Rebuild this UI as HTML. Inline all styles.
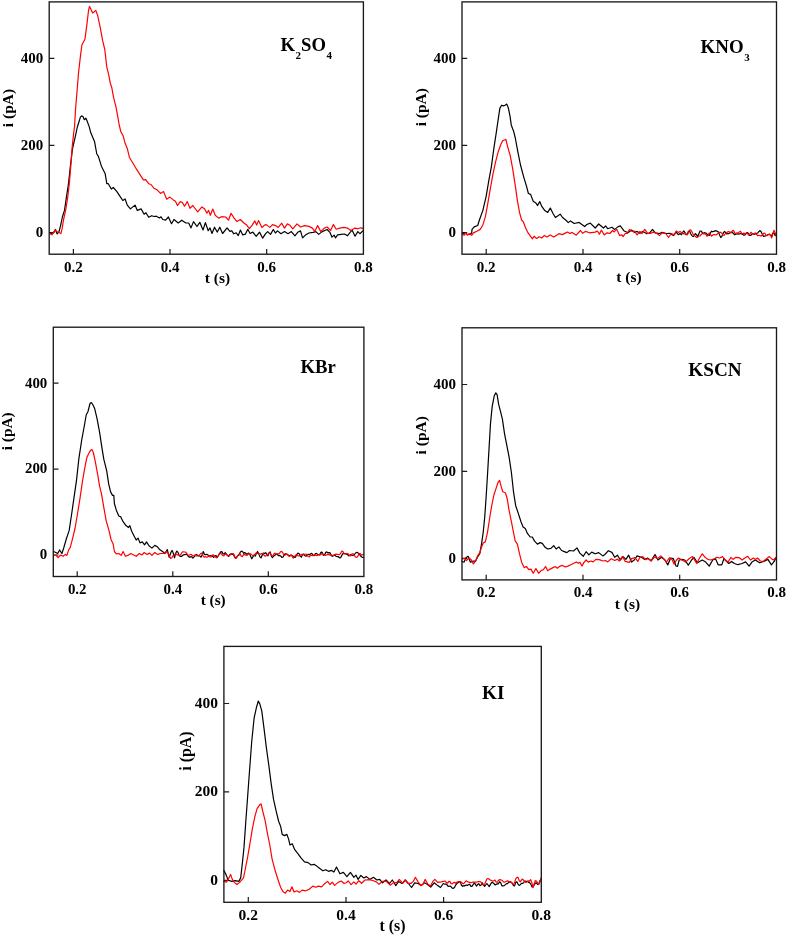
<!DOCTYPE html>
<html lang="en"><head><meta charset="utf-8"><title>Current transients</title>
<style>
html,body{margin:0;padding:0;background:#fff}
svg{display:block}
text{font-family:"Liberation Serif","Times New Roman",Times,serif;font-weight:bold;fill:#000}
.t{font-size:15px}
.l{font-size:19px}
.s{font-size:11px}
.fr{fill:none;stroke:#1a1a1a;stroke-width:1.35}
.tk{stroke:#1a1a1a;stroke-width:1.2;fill:none}
.k{fill:none;stroke:#000;stroke-width:1.2;stroke-linejoin:round;stroke-linecap:round}
.r{fill:none;stroke:#f00;stroke-width:1.2;stroke-linejoin:round;stroke-linecap:round}
</style></head><body>
<svg width="787" height="936" viewBox="0 0 787 936">
<rect width="787" height="936" fill="#fff"/>
<g id="p1">
<text style="font-size:15.0px" x="73.4" y="271.8" text-anchor="middle">0.2</text>
<text style="font-size:15.0px" x="170.0" y="271.8" text-anchor="middle">0.4</text>
<text style="font-size:15.0px" x="266.7" y="271.8" text-anchor="middle">0.6</text>
<text style="font-size:15.0px" x="363.4" y="271.8" text-anchor="middle">0.8</text>
<text style="font-size:15.0px" x="43.2" y="62.6" text-anchor="end">400</text>
<text style="font-size:15.0px" x="43.2" y="149.7" text-anchor="end">200</text>
<text style="font-size:15.0px" x="43.2" y="236.8" text-anchor="end">0</text>
<path class="tk" d="M73.4,254.2v-5.2M170.0,254.2v-5.2M266.7,254.2v-5.2M49.2,58.3h5.2M49.2,145.4h5.2M49.2,232.5h5.2"/>
<text style="font-size:15.5px" x="217.5" y="282.8" text-anchor="middle">t (s)</text>
<text style="font-size:15.5px" transform="translate(13.0,108.0) rotate(-90)" text-anchor="middle">i (pA)</text>
<text style="font-size:18.7px" x="280.4" y="50.7">K<tspan class="s" dy="7.8" dx="0.6">2</tspan><tspan dy="-7.8">SO</tspan><tspan class="s" dy="7.8" dx="0.6">4</tspan></text>
<path class="k" d="M49.6,232.5 L51.4,234.0 L53.4,233.0 L55.4,229.5 L57.2,234.0 L59.0,231.7 L60.6,225.6 L62.5,216.5 L64.5,210.4 L66.3,198.2 L68.6,182.9 L70.2,167.7 L72.4,149.4 L75.5,135.7 L77.2,127.5 L78.9,122.0 L80.4,117.1 L81.6,115.9 L83.1,116.7 L84.3,119.7 L85.9,118.2 L86.9,120.5 L89.2,126.6 L90.7,132.6 L94.6,141.8 L96.8,154.0 L98.4,156.3 L101.4,166.2 L105.2,173.8 L106.8,183.7 L108.3,183.7 L111.3,189.0 L113.3,187.5 L116.7,191.3 L119.7,195.9 L122.8,200.5 L125.1,199.0 L127.3,205.1 L130.4,208.9 L135.0,205.1 L137.3,210.4 L141.1,208.9 L144.1,214.2 L145.9,212.7 L148.7,217.3 L151.7,215.7 L154.0,216.5 L156.3,216.2 L159.4,218.0 L161.0,216.8 L162.8,219.5 L165.6,220.2 L168.4,217.0 L171.5,223.7 L174.0,219.5 L178.2,223.0 L181.7,220.2 L185.9,223.0 L188.7,223.0 L191.0,227.9 L193.5,221.6 L197.0,226.5 L199.8,222.3 L203.0,230.0 L205.4,222.6 L208.2,230.7 L210.0,227.9 L212.0,233.5 L214.5,227.2 L217.3,232.1 L219.8,227.2 L222.6,233.5 L227.1,227.9 L229.9,231.4 L231.6,230.7 L233.8,233.8 L236.2,232.8 L238.3,235.6 L240.4,230.0 L242.7,234.9 L245.3,234.2 L247.8,229.3 L250.1,233.5 L252.9,232.1 L256.2,236.3 L259.5,232.1 L262.7,238.2 L265.6,233.7 L267.7,231.6 L270.5,234.4 L273.3,229.5 L275.4,233.0 L277.5,230.9 L281.0,233.7 L284.5,231.6 L288.0,233.7 L291.4,231.6 L294.9,235.8 L297.7,232.3 L300.5,230.9 L302.6,237.9 L305.4,235.1 L308.9,233.0 L313.1,232.3 L315.9,231.6 L318.7,234.4 L322.2,231.6 L327.1,229.5 L329.9,232.3 L332.0,237.2 L334.1,235.1 L335.5,237.9 L337.6,234.8 L341.1,234.4 L344.6,234.0 L347.4,235.8 L350.1,232.3 L352.2,230.2 L355.0,236.2 L357.8,231.6 L359.9,233.7 L363.1,230.6"/>
<path class="r" d="M49.6,233.3 L51.9,234.8 L53.4,232.5 L55.4,230.2 L57.2,231.7 L59.0,232.5 L60.9,233.6 L62.1,228.7 L63.6,219.5 L65.6,210.4 L67.6,198.2 L69.4,182.9 L70.9,164.6 L72.1,147.9 L73.7,132.6 L74.5,127.0 L75.5,109.8 L77.0,91.5 L78.5,73.2 L80.4,56.4 L81.9,45.0 L85.0,38.9 L86.9,24.4 L88.5,10.7 L89.5,6.4 L90.7,8.8 L92.6,13.0 L94.1,11.9 L95.8,10.4 L97.6,15.2 L100.2,27.4 L102.6,40.4 L104.8,49.6 L106.8,67.1 L108.7,74.7 L110.3,83.1 L111.8,87.7 L113.6,97.6 L115.9,106.7 L117.9,117.4 L119.2,125.0 L120.9,131.9 L123.1,135.7 L125.1,143.3 L127.3,148.6 L129.6,157.8 L132.7,162.8 L136.5,169.2 L139.5,173.8 L143.4,179.9 L145.6,179.6 L148.7,183.7 L151.0,184.5 L154.0,188.3 L157.1,189.8 L160.5,193.4 L163.5,191.6 L166.7,199.2 L169.8,197.1 L173.3,199.9 L175.4,201.3 L177.5,205.5 L180.3,201.6 L182.4,202.5 L184.5,206.2 L187.3,201.6 L190.0,208.3 L192.8,205.5 L197.7,211.8 L201.9,206.9 L204.7,209.0 L206.8,213.2 L208.6,210.4 L210.3,215.3 L212.8,209.0 L215.2,215.3 L218.7,218.1 L221.5,216.7 L225.7,217.0 L228.5,220.2 L231.0,213.2 L234.1,218.1 L236.9,221.6 L240.4,219.5 L243.9,223.0 L246.7,225.1 L249.4,228.6 L252.2,225.1 L254.8,220.9 L256.7,225.1 L258.5,220.6 L262.0,227.5 L264.5,225.1 L266.3,224.6 L269.8,227.4 L272.6,224.6 L275.4,225.6 L278.2,227.4 L281.7,223.2 L284.5,228.1 L287.3,223.9 L290.0,225.3 L292.8,228.8 L297.0,223.9 L300.5,227.0 L304.7,225.6 L308.9,226.4 L312.4,228.1 L314.8,231.6 L317.6,225.6 L320.8,231.6 L324.3,228.1 L327.1,227.0 L330.6,230.6 L333.4,224.6 L336.2,229.2 L339.7,228.1 L343.9,227.4 L347.4,228.1 L350.8,230.6 L355.0,228.1 L357.8,228.8 L360.6,227.8 L363.1,228.4"/>
<rect class="fr" x="49.2" y="1.9" width="314.2" height="252.3"/>
</g>
<g id="p2">
<text style="font-size:15.0px" x="486.2" y="271.6" text-anchor="middle">0.2</text>
<text style="font-size:15.0px" x="583.0" y="271.6" text-anchor="middle">0.4</text>
<text style="font-size:15.0px" x="679.7" y="271.6" text-anchor="middle">0.6</text>
<text style="font-size:15.0px" x="776.5" y="271.6" text-anchor="middle">0.8</text>
<text style="font-size:15.0px" x="456.0" y="62.6" text-anchor="end">400</text>
<text style="font-size:15.0px" x="456.0" y="149.7" text-anchor="end">200</text>
<text style="font-size:15.0px" x="456.0" y="236.8" text-anchor="end">0</text>
<path class="tk" d="M486.2,254.2v-5.2M583.0,254.2v-5.2M679.7,254.2v-5.2M462.0,58.3h5.2M462.0,145.4h5.2M462.0,232.5h5.2"/>
<text style="font-size:15.5px" x="629.0" y="282.4" text-anchor="middle">t (s)</text>
<text style="font-size:15.5px" transform="translate(426.3,107.2) rotate(-90)" text-anchor="middle">i (pA)</text>
<text style="font-size:18.9px" x="700.6" y="53.1">KNO<tspan class="s" dy="7.8" dx="0.6">3</tspan></text>
<path class="k" d="M462.3,233.7 L464.8,232.9 L467.4,234.6 L470.0,234.1 L471.7,232.9 L472.0,229.4 L474.2,226.9 L477.7,225.5 L479.4,220.0 L482.8,210.6 L486.2,196.1 L488.8,180.7 L491.3,167.1 L493.9,148.2 L496.5,131.2 L498.7,115.8 L499.9,108.1 L501.6,105.2 L503.3,105.9 L505.0,105.2 L506.7,104.1 L508.4,108.1 L510.1,116.6 L511.3,125.2 L513.6,131.2 L515.3,138.0 L517.8,151.7 L520.4,164.5 L523.8,177.3 L526.4,185.9 L528.4,193.5 L530.6,194.4 L533.2,201.2 L535.8,202.9 L537.5,205.5 L539.7,201.6 L541.8,206.4 L544.8,210.6 L547.7,212.4 L550.3,208.1 L552.9,213.2 L555.4,217.5 L558.0,215.8 L560.2,214.1 L562.6,217.5 L565.7,220.0 L568.3,222.6 L570.5,220.9 L574.2,223.5 L579.1,222.4 L584.7,226.6 L586.8,224.5 L590.3,223.1 L595.2,228.0 L598.7,224.0 L603.5,228.0 L605.6,225.9 L607.7,228.7 L611.9,227.3 L614.7,229.4 L618.2,226.6 L620.3,225.9 L623.8,230.7 L628.0,232.8 L631.5,230.0 L634.3,232.4 L637.1,231.4 L639.9,233.3 L642.7,231.4 L646.9,233.8 L649.7,232.8 L652.5,229.4 L655.3,232.8 L659.4,233.5 L662.2,232.4 L666.4,233.5 L669.9,233.3 L673.4,235.6 L676.2,232.1 L678.3,234.7 L680.0,233.5 L681.5,234.7 L682.7,232.3 L683.8,230.9 L685.0,232.6 L686.1,234.8 L687.3,234.4 L688.4,231.3 L689.6,231.0 L690.7,233.7 L691.9,235.6 L693.1,236.6 L694.2,235.8 L695.4,233.6 L696.5,234.6 L697.7,236.6 L698.8,234.1 L700.0,231.0 L701.2,231.0 L702.3,232.6 L703.5,233.2 L704.6,232.7 L705.8,233.0 L706.9,234.0 L708.1,235.2 L709.2,235.4 L710.4,232.9 L711.6,231.2 L712.7,231.8 L713.9,231.4 L715.0,230.7 L716.2,230.8 L717.3,231.4 L718.5,232.1 L719.7,235.3 L720.8,237.6 L722.0,236.1 L723.1,233.3 L724.3,231.5 L725.4,232.2 L726.6,233.8 L727.7,233.7 L728.9,233.6 L730.1,232.7 L731.2,232.0 L732.4,232.5 L733.5,233.6 L734.7,234.8 L735.8,234.2 L737.0,233.7 L738.1,234.2 L739.3,234.0 L740.5,233.5 L741.6,233.9 L742.8,234.5 L743.9,235.2 L745.1,234.9 L746.2,233.1 L747.4,232.5 L748.6,233.9 L749.7,235.4 L750.9,235.4 L752.0,234.0 L753.2,233.8 L754.3,234.3 L755.5,233.9 L756.6,233.6 L757.8,232.9 L759.0,231.4 L760.1,230.6 L761.3,232.0 L762.4,234.6 L763.6,236.3 L764.7,236.2 L765.9,235.7 L767.1,235.3 L768.2,234.6 L769.4,234.2 L770.5,235.4 L771.7,235.8 L772.8,233.1 L774.0,233.0 L775.1,235.4 L776.3,235.3"/>
<path class="r" d="M462.3,233.7 L464.0,235.4 L465.7,232.9 L467.4,235.1 L469.6,233.7 L471.7,235.4 L473.4,232.9 L476.8,231.2 L480.2,229.4 L482.8,225.2 L485.4,216.6 L487.9,202.9 L490.5,187.6 L493.0,173.9 L495.6,161.9 L498.2,151.7 L500.7,144.8 L502.8,140.6 L504.5,140.0 L505.9,139.4 L507.6,146.5 L510.1,155.1 L512.7,168.8 L515.3,185.9 L517.5,201.2 L519.5,212.4 L521.6,220.0 L523.3,221.8 L525.5,227.7 L528.1,232.9 L530.6,236.3 L532.4,238.8 L534.1,236.3 L536.6,238.5 L539.2,236.8 L541.8,238.0 L544.3,235.4 L546.9,237.1 L550.3,235.1 L553.7,237.1 L556.3,235.4 L558.9,233.7 L562.3,234.6 L564.8,233.4 L567.4,232.0 L570.0,233.5 L572.1,232.4 L576.3,235.2 L580.5,230.5 L582.6,233.3 L585.4,231.4 L589.6,232.8 L595.2,232.1 L597.3,231.0 L599.4,234.2 L601.4,230.0 L604.2,234.9 L607.0,232.8 L609.8,233.5 L612.6,230.5 L614.0,231.9 L616.8,229.4 L619.6,235.6 L621.7,234.7 L623.1,236.6 L625.2,233.5 L627.3,233.5 L629.4,229.4 L632.2,231.4 L634.3,231.0 L637.1,234.9 L639.9,231.4 L642.0,233.5 L644.8,229.4 L647.6,233.3 L650.4,233.5 L653.2,232.1 L656.7,233.3 L659.4,235.6 L662.2,232.8 L665.7,233.5 L668.5,237.5 L671.3,233.5 L674.1,234.9 L676.2,231.0 L678.3,232.4 L680.0,231.4 L681.5,232.5 L682.7,232.8 L683.8,234.0 L685.0,233.6 L686.1,233.9 L687.3,234.9 L688.4,232.7 L689.6,230.0 L690.7,229.9 L691.9,231.8 L693.1,234.1 L694.2,235.4 L695.4,236.4 L696.5,237.5 L697.7,237.1 L698.8,236.0 L700.0,235.8 L701.2,234.5 L702.3,233.4 L703.5,233.9 L704.6,233.7 L705.8,234.3 L706.9,236.3 L708.1,235.3 L709.2,233.0 L710.4,234.4 L711.6,236.2 L712.7,235.0 L713.9,234.5 L715.0,234.9 L716.2,234.8 L717.3,234.1 L718.5,232.7 L719.7,232.2 L720.8,232.4 L722.0,233.2 L723.1,235.2 L724.3,235.3 L725.4,233.5 L726.6,232.7 L727.7,231.8 L728.9,231.5 L730.1,232.5 L731.2,232.9 L732.4,230.9 L733.5,230.3 L734.7,233.2 L735.8,233.4 L737.0,232.7 L738.1,233.4 L739.3,231.9 L740.5,231.2 L741.6,233.3 L742.8,233.6 L743.9,233.0 L745.1,234.1 L746.2,233.6 L747.4,233.2 L748.6,235.1 L749.7,234.1 L750.9,232.2 L752.0,233.2 L753.2,234.5 L754.3,233.8 L755.5,232.8 L756.6,234.5 L757.8,235.8 L759.0,235.3 L760.1,235.5 L761.3,236.1 L762.4,235.3 L763.6,233.4 L764.7,233.0 L765.9,235.0 L767.1,235.7 L768.2,234.5 L769.4,234.2 L770.5,235.3 L771.7,237.9 L772.8,234.1 L774.0,230.3 L775.1,232.7 L776.3,236.3"/>
<rect class="fr" x="462.0" y="1.9" width="314.5" height="252.3"/>
</g>
<g id="p3">
<text style="font-size:14.9px" x="77.2" y="593.5" text-anchor="middle">0.2</text>
<text style="font-size:14.9px" x="172.8" y="593.5" text-anchor="middle">0.4</text>
<text style="font-size:14.9px" x="268.3" y="593.5" text-anchor="middle">0.6</text>
<text style="font-size:14.9px" x="363.9" y="593.5" text-anchor="middle">0.8</text>
<text style="font-size:14.9px" x="47.3" y="387.5" text-anchor="end">400</text>
<text style="font-size:14.9px" x="47.3" y="473.4" text-anchor="end">200</text>
<text style="font-size:14.9px" x="47.3" y="559.3" text-anchor="end">0</text>
<path class="tk" d="M77.2,576.5v-5.2M172.8,576.5v-5.2M268.3,576.5v-5.2M53.3,383.2h5.2M53.3,469.1h5.2M53.3,555.0h5.2"/>
<text style="font-size:15.3px" x="213.2" y="604.9" text-anchor="middle">t (s)</text>
<text style="font-size:15.3px" transform="translate(12.4,431.3) rotate(-90)" text-anchor="middle">i (pA)</text>
<text style="font-size:18.7px" x="300.4" y="372.7">KBr</text>
<path class="k" d="M53.5,551.5 L55.8,552.5 L57.7,553.5 L59.6,550.0 L61.9,553.5 L63.8,547.7 L66.3,539.0 L69.2,530.4 L71.5,515.0 L74.0,497.7 L76.5,480.4 L78.8,459.2 L81.7,440.0 L84.2,426.5 L86.2,415.0 L88.1,411.2 L90.0,403.5 L91.3,402.5 L92.7,404.4 L94.6,408.3 L97.1,418.8 L99.6,432.3 L101.9,447.7 L103.8,459.2 L106.7,470.8 L108.7,484.2 L110.6,491.9 L112.5,495.4 L113.8,495.4 L114.4,503.5 L116.3,510.2 L118.8,516.0 L120.8,516.9 L123.1,521.7 L126.0,525.6 L128.5,527.5 L129.8,525.6 L131.7,531.3 L134.2,536.2 L136.2,540.0 L138.1,538.1 L140.0,542.9 L142.3,541.9 L144.6,544.8 L146.5,541.9 L149.0,545.8 L151.9,548.1 L154.8,545.4 L157.3,546.7 L159.6,549.6 L162.5,551.5 L165.0,553.5 L167.3,549.6 L169.2,557.3 L171.0,552.3 L172.2,550.4 L173.3,553.2 L174.5,557.8 L175.6,553.5 L176.8,551.1 L177.9,552.2 L179.1,555.1 L180.2,556.4 L181.4,556.5 L182.5,555.5 L183.7,554.7 L184.8,554.7 L186.0,554.2 L187.2,554.8 L188.3,556.5 L189.5,557.3 L190.6,556.7 L191.8,556.9 L192.9,558.1 L194.1,556.9 L195.2,555.5 L196.4,554.5 L197.5,555.3 L198.7,556.0 L199.8,555.9 L201.0,557.2 L202.2,555.1 L203.3,551.5 L204.5,554.5 L205.6,554.7 L206.8,554.3 L207.9,555.0 L209.1,555.9 L210.2,555.9 L211.4,555.7 L212.5,556.4 L213.7,557.4 L214.8,555.9 L216.0,555.6 L217.2,557.0 L218.3,555.8 L219.5,553.7 L220.6,551.9 L221.8,551.6 L222.9,553.6 L224.1,554.3 L225.2,552.5 L226.4,554.0 L227.5,555.6 L228.7,556.4 L229.8,554.4 L231.0,553.7 L232.2,554.5 L233.3,554.3 L234.5,556.8 L235.6,558.1 L236.8,557.0 L237.9,555.6 L239.1,555.0 L240.2,552.2 L241.4,551.1 L242.5,551.5 L243.7,553.3 L244.8,552.6 L246.0,553.5 L247.2,554.5 L248.3,553.2 L249.5,553.5 L250.6,556.2 L251.8,558.8 L252.9,556.9 L254.1,554.9 L255.2,556.1 L256.4,553.7 L257.5,551.5 L258.7,553.6 L259.8,556.6 L261.0,557.9 L262.2,555.2 L263.3,553.2 L264.5,553.4 L265.6,552.7 L266.8,554.1 L267.9,555.8 L269.1,552.7 L270.2,551.9 L271.4,556.4 L272.5,557.6 L273.7,556.0 L274.9,555.4 L276.0,554.2 L277.2,554.1 L278.3,555.6 L279.5,555.6 L280.6,555.8 L281.8,557.4 L282.9,557.2 L284.1,555.0 L285.2,553.7 L286.4,554.3 L287.5,554.7 L288.7,555.3 L289.9,555.7 L291.0,555.0 L292.2,555.6 L293.3,556.5 L294.5,557.5 L295.6,557.1 L296.8,554.3 L297.9,553.1 L299.1,553.5 L300.2,555.9 L301.4,557.2 L302.5,554.4 L303.7,554.1 L304.9,555.8 L306.0,556.2 L307.2,555.3 L308.3,554.3 L309.5,554.7 L310.6,553.7 L311.8,553.3 L312.9,555.3 L314.1,555.6 L315.2,553.9 L316.4,553.4 L317.5,554.3 L318.7,554.8 L319.9,554.2 L321.0,552.2 L322.2,552.3 L323.3,555.4 L324.5,555.3 L325.6,552.6 L326.8,551.8 L327.9,552.9 L329.1,552.7 L330.2,552.9 L331.4,555.8 L332.5,556.3 L333.7,555.1 L334.9,555.4 L336.0,556.3 L337.2,556.7 L338.3,556.7 L339.5,557.8 L340.6,557.7 L341.8,555.4 L342.9,553.7 L344.1,553.5 L345.2,553.7 L346.4,554.0 L347.5,554.8 L348.7,555.8 L349.9,555.2 L351.0,554.6 L352.2,555.5 L353.3,555.3 L354.5,554.4 L355.6,553.0 L356.8,552.3 L357.9,552.9 L359.1,553.6 L360.2,555.3 L361.4,556.8 L362.5,557.5 L363.7,557.3"/>
<path class="r" d="M53.5,555.4 L55.8,555.0 L58.1,557.7 L60.6,555.0 L63.1,556.3 L65.4,554.4 L66.9,555.4 L68.8,549.6 L70.2,547.7 L72.7,538.1 L75.0,528.5 L77.3,515.0 L79.8,499.6 L82.3,482.3 L84.6,468.8 L86.9,457.3 L88.8,453.5 L90.4,450.6 L91.9,449.6 L93.3,452.5 L95.2,461.2 L97.7,474.6 L99.6,486.2 L101.5,493.8 L103.8,507.3 L106.2,520.8 L108.7,529.4 L111.2,540.0 L113.1,543.8 L114.4,551.5 L116.3,553.8 L118.8,553.5 L121.2,555.4 L123.1,551.5 L125.4,556.3 L127.9,555.4 L130.8,553.5 L133.7,555.0 L136.2,556.3 L139.4,553.5 L141.9,555.0 L144.2,552.5 L147.1,554.4 L149.6,553.1 L151.9,555.4 L154.8,552.5 L157.7,554.4 L160.6,553.5 L163.5,553.5 L166.3,551.5 L168.8,554.4 L170.6,558.5 L171.8,557.7 L172.9,555.8 L174.1,555.3 L175.2,554.2 L176.4,554.2 L177.5,554.9 L178.7,555.3 L179.9,555.6 L181.0,554.2 L182.2,552.0 L183.3,551.9 L184.5,552.0 L185.6,552.1 L186.8,553.5 L187.9,555.1 L189.1,555.4 L190.3,554.4 L191.4,554.5 L192.6,555.9 L193.7,555.6 L194.9,555.1 L196.0,555.8 L197.2,555.8 L198.4,555.8 L199.5,555.0 L200.7,553.5 L201.8,553.1 L203.0,555.5 L204.1,557.3 L205.3,556.5 L206.4,557.1 L207.6,557.2 L208.8,555.9 L209.9,556.8 L211.1,557.0 L212.2,555.1 L213.4,554.8 L214.5,556.1 L215.7,557.2 L216.9,557.9 L218.0,556.0 L219.2,553.8 L220.3,553.5 L221.5,553.9 L222.6,555.5 L223.8,555.9 L224.9,554.3 L226.1,554.1 L227.3,555.2 L228.4,555.7 L229.6,555.5 L230.7,554.3 L231.9,553.7 L233.0,553.5 L234.2,554.9 L235.4,558.3 L236.5,558.1 L237.7,555.6 L238.8,554.4 L240.0,553.9 L241.1,555.9 L242.3,556.7 L243.4,554.9 L244.6,554.4 L245.8,555.2 L246.9,555.3 L248.1,554.2 L249.2,553.5 L250.4,553.8 L251.5,554.6 L252.7,555.6 L253.9,555.6 L255.0,554.2 L256.2,552.8 L257.3,553.2 L258.5,553.8 L259.6,553.9 L260.8,554.2 L261.9,553.5 L263.1,553.4 L264.3,555.6 L265.4,556.2 L266.6,555.1 L267.7,554.7 L268.9,553.3 L270.0,552.7 L271.2,554.8 L272.4,556.5 L273.5,554.7 L274.7,553.1 L275.8,553.9 L277.0,553.9 L278.1,553.8 L279.3,553.8 L280.4,551.9 L281.6,551.3 L282.8,552.7 L283.9,555.3 L285.1,555.2 L286.2,553.8 L287.4,554.1 L288.5,556.0 L289.7,556.3 L290.9,554.9 L292.0,556.1 L293.2,558.2 L294.3,556.8 L295.5,555.0 L296.6,555.1 L297.8,555.6 L298.9,555.9 L300.1,555.4 L301.3,554.4 L302.4,554.6 L303.6,554.8 L304.7,554.3 L305.9,554.0 L307.0,554.5 L308.2,556.7 L309.4,556.9 L310.5,555.2 L311.7,555.4 L312.8,555.6 L314.0,554.9 L315.1,554.7 L316.3,555.6 L317.4,555.4 L318.6,554.6 L319.8,555.1 L320.9,554.5 L322.1,553.3 L323.2,554.5 L324.4,555.5 L325.5,555.3 L326.7,554.9 L327.9,554.3 L329.0,554.6 L330.2,555.1 L331.3,554.9 L332.5,555.6 L333.6,555.6 L334.8,554.5 L335.9,554.2 L337.1,554.3 L338.3,554.5 L339.4,554.6 L340.6,553.4 L341.7,551.2 L342.9,551.4 L344.0,553.6 L345.2,553.9 L346.4,553.6 L347.5,553.6 L348.7,554.3 L349.8,555.9 L351.0,555.6 L352.1,553.9 L353.3,553.9 L354.4,555.6 L355.6,557.0 L356.8,557.4 L357.9,556.2 L359.1,553.6 L360.2,553.6 L361.4,555.2 L362.5,554.7 L363.7,554.1"/>
<rect class="fr" x="53.3" y="327.2" width="310.6" height="249.3"/>
</g>
<g id="p4">
<text style="font-size:15.0px" x="486.2" y="597.2" text-anchor="middle">0.2</text>
<text style="font-size:15.0px" x="583.0" y="597.2" text-anchor="middle">0.4</text>
<text style="font-size:15.0px" x="679.7" y="597.2" text-anchor="middle">0.6</text>
<text style="font-size:15.0px" x="776.5" y="597.2" text-anchor="middle">0.8</text>
<text style="font-size:15.0px" x="456.0" y="388.8" text-anchor="end">400</text>
<text style="font-size:15.0px" x="456.0" y="475.7" text-anchor="end">200</text>
<text style="font-size:15.0px" x="456.0" y="562.6" text-anchor="end">0</text>
<path class="tk" d="M486.2,579.9v-5.2M583.0,579.9v-5.2M679.7,579.9v-5.2M462.0,384.5h5.2M462.0,471.4h5.2M462.0,558.3h5.2"/>
<text style="font-size:15.5px" x="627.5" y="609.1" text-anchor="middle">t (s)</text>
<text style="font-size:15.5px" transform="translate(426.3,435.3) rotate(-90)" text-anchor="middle">i (pA)</text>
<text style="font-size:19.2px" x="688.3" y="375.6">KSCN</text>
<path class="k" d="M461.8,561.2 L464.0,562.2 L466.1,557.5 L468.2,556.3 L470.4,562.2 L472.9,561.2 L475.5,561.2 L477.6,556.9 L479.8,553.7 L481.5,544.1 L483.2,532.3 L484.7,517.4 L486.2,496.0 L487.5,474.7 L489.0,449.1 L490.5,423.4 L492.2,406.4 L494.3,395.7 L495.8,392.9 L497.1,394.6 L498.6,404.2 L500.3,410.6 L502.4,419.2 L504.6,434.1 L507.1,446.9 L509.2,457.6 L511.4,472.5 L513.5,491.8 L515.7,505.7 L518.2,513.1 L521.0,521.7 L523.1,527.0 L525.3,528.5 L527.4,533.4 L530.2,537.0 L532.3,537.0 L534.4,540.9 L537.4,544.1 L540.2,542.6 L542.3,543.4 L545.1,547.3 L547.7,549.0 L550.9,548.4 L553.7,545.6 L556.2,549.0 L558.8,546.9 L561.6,550.5 L564.3,551.6 L566.9,552.6 L569.5,550.5 L573.5,551.0 L577.0,547.9 L579.8,553.1 L583.3,556.3 L586.1,551.7 L588.9,554.9 L591.7,552.1 L595.2,553.8 L598.7,552.6 L602.8,555.9 L604.9,554.5 L608.4,550.7 L611.9,552.4 L614.7,557.3 L617.5,555.2 L620.3,560.0 L623.1,556.6 L625.9,559.4 L628.7,555.2 L631.5,562.1 L634.3,560.0 L637.1,555.9 L641.3,557.3 L644.8,559.4 L647.6,558.0 L651.1,560.7 L655.0,554.5 L658.0,560.0 L661.5,557.3 L665.0,560.0 L667.8,564.9 L670.6,558.0 L673.4,558.7 L676.0,566.0 L677.5,566.3 L679.2,560.0 L682.0,559.4 L684.8,560.0 L688.3,565.2 L691.1,560.7 L693.9,557.3 L697.4,562.8 L702.3,560.0 L705.7,562.1 L709.2,566.1 L712.7,560.0 L715.5,558.7 L718.3,564.9 L721.8,564.9 L723.9,558.7 L728.8,563.5 L731.6,561.4 L734.4,563.5 L737.9,564.7 L742.1,563.5 L745.6,561.9 L749.1,566.1 L751.9,562.1 L755.4,560.0 L759.6,562.8 L763.7,561.4 L767.9,559.4 L771.4,564.9 L774.2,561.4 L775.9,558.0"/>
<path class="r" d="M461.8,559.0 L464.4,558.4 L466.5,560.5 L469.1,558.0 L471.2,559.7 L473.4,563.9 L475.5,561.2 L477.6,555.8 L479.8,552.6 L481.5,547.3 L483.2,543.0 L485.3,541.9 L487.5,532.3 L489.6,518.5 L491.7,505.6 L493.9,495.0 L496.0,488.6 L498.1,482.2 L499.6,480.5 L501.1,486.4 L502.8,491.8 L505.4,492.8 L507.1,498.2 L509.2,511.0 L511.4,521.7 L513.5,532.3 L515.2,540.9 L517.4,544.1 L519.5,553.7 L521.6,562.2 L524.2,567.6 L526.3,566.5 L528.9,569.7 L531.0,569.1 L533.2,573.3 L535.9,568.6 L538.7,573.3 L541.3,570.4 L543.4,569.7 L545.6,566.5 L547.7,570.8 L550.2,569.1 L553.0,567.6 L555.2,566.5 L557.3,568.2 L560.1,566.1 L562.6,565.4 L565.2,566.9 L568.0,566.1 L570.7,564.8 L573.5,563.5 L576.3,561.9 L578.4,563.3 L580.1,562.4 L581.9,566.1 L584.0,562.4 L586.1,560.0 L588.2,562.1 L591.0,561.0 L593.1,561.9 L595.9,559.4 L599.3,559.6 L602.8,561.0 L605.6,560.5 L607.7,561.9 L611.2,558.7 L614.7,560.5 L617.5,559.1 L619.2,561.0 L622.4,556.3 L625.2,561.4 L629.4,562.4 L631.5,558.7 L635.0,557.7 L637.8,561.4 L639.9,557.3 L642.7,556.6 L645.5,559.6 L648.3,558.7 L651.1,561.0 L654.6,556.8 L657.4,558.7 L660.8,555.9 L663.6,558.7 L666.4,562.1 L669.5,557.7 L672.0,559.4 L674.1,564.2 L676.2,560.5 L678.5,558.0 L682.0,560.0 L685.5,562.1 L689.0,558.7 L692.5,556.6 L696.7,563.5 L699.5,558.0 L702.3,553.8 L705.1,557.3 L707.8,559.4 L710.6,560.0 L714.1,558.7 L716.9,557.3 L719.7,558.0 L722.5,556.6 L725.3,560.0 L728.1,562.1 L730.9,557.3 L733.0,559.4 L735.8,557.3 L739.3,557.7 L742.1,560.0 L744.9,558.0 L747.7,556.3 L750.5,560.0 L753.3,558.0 L755.4,559.4 L757.5,558.0 L760.3,561.0 L763.1,561.4 L766.5,558.7 L769.3,556.6 L771.4,558.7 L773.5,560.0 L775.9,557.3"/>
<rect class="fr" x="462.0" y="327.8" width="314.5" height="252.1"/>
</g>
<g id="p5">
<text style="font-size:15.5px" x="248.3" y="919.8" text-anchor="middle">0.2</text>
<text style="font-size:15.5px" x="346.0" y="919.8" text-anchor="middle">0.4</text>
<text style="font-size:15.5px" x="443.6" y="919.8" text-anchor="middle">0.6</text>
<text style="font-size:15.5px" x="541.3" y="919.8" text-anchor="middle">0.8</text>
<text style="font-size:15.5px" x="217.9" y="707.8" text-anchor="end">400</text>
<text style="font-size:15.5px" x="217.9" y="796.2" text-anchor="end">200</text>
<text style="font-size:15.5px" x="217.9" y="884.6" text-anchor="end">0</text>
<path class="tk" d="M248.3,902.3v-5.2M346.0,902.3v-5.2M443.6,902.3v-5.2M223.9,703.5h5.2M223.9,791.9h5.2M223.9,880.3h5.2"/>
<text style="font-size:15.9px" x="392.5" y="930.6" text-anchor="middle">t (s)</text>
<text style="font-size:15.9px" transform="translate(191.2,751.1) rotate(-90)" text-anchor="middle">i (pA)</text>
<text style="font-size:19.1px" x="482.1" y="699.1">KI</text>
<path class="k" d="M223.8,870.4 L225.9,874.4 L228.2,880.2 L231.7,881.4 L235.3,880.7 L238.8,881.4 L240.7,877.9 L242.3,863.8 L244.0,847.4 L245.8,821.5 L247.7,795.7 L249.6,769.8 L251.7,741.7 L254.1,718.2 L256.4,707.6 L258.3,701.0 L259.9,704.1 L261.8,711.1 L264.2,729.9 L266.5,748.7 L268.8,765.2 L271.2,783.9 L273.5,799.2 L276.4,812.1 L278.7,821.5 L280.6,826.2 L282.2,834.4 L284.6,835.6 L286.9,834.4 L288.6,839.1 L290.0,845.0 L292.3,843.8 L294.7,849.7 L297.5,853.2 L301.0,857.9 L304.5,861.9 L308.1,862.6 L311.1,865.0 L313.9,864.3 L316.8,866.1 L319.8,868.5 L322.9,870.8 L325.7,869.7 L328.5,871.3 L331.6,870.4 L333.9,872.0 L336.5,867.0 L339.9,873.8 L343.4,872.4 L346.9,876.6 L350.4,872.4 L353.9,877.3 L356.0,875.2 L358.1,879.4 L360.9,875.4 L363.7,878.0 L366.4,876.6 L369.9,879.4 L373.4,877.3 L376.9,880.0 L379.7,879.4 L382.5,882.8 L386.0,880.0 L389.5,883.5 L392.3,880.0 L395.8,885.6 L398.6,881.4 L402.1,883.5 L405.6,880.0 L408.4,883.5 L411.6,887.5 L414.7,882.8 L418.2,883.5 L421.0,885.6 L424.4,882.8 L427.2,884.2 L430.7,887.0 L434.2,882.8 L437.7,885.6 L440.5,887.5 L443.3,883.5 L445.0,884.2 L446.5,884.2 L447.7,885.9 L448.8,886.5 L450.0,886.0 L451.1,886.8 L452.3,888.2 L453.4,888.4 L454.6,887.3 L455.7,885.1 L456.9,883.3 L458.0,882.9 L459.2,881.8 L460.3,881.9 L461.5,885.3 L462.7,886.3 L463.8,885.7 L465.0,885.8 L466.1,885.0 L467.3,885.4 L468.4,884.8 L469.6,884.2 L470.7,886.1 L471.9,886.5 L473.0,884.8 L474.2,883.0 L475.3,884.0 L476.5,886.1 L477.6,884.6 L478.8,883.7 L480.0,885.8 L481.1,885.0 L482.3,882.8 L483.4,884.8 L484.6,886.4 L485.7,885.0 L486.9,883.5 L488.0,885.0 L489.2,886.6 L490.3,884.6 L491.5,882.7 L492.6,882.5 L493.8,883.4 L495.0,884.9 L496.1,884.4 L497.3,883.9 L498.4,883.8 L499.6,881.7 L500.7,882.7 L501.9,885.9 L503.0,885.8 L504.2,885.6 L505.3,884.6 L506.5,883.6 L507.6,883.6 L508.8,882.0 L510.0,881.5 L511.1,882.3 L512.3,883.3 L513.4,885.6 L514.6,885.9 L515.7,882.4 L516.9,881.7 L518.0,884.1 L519.2,885.4 L520.3,884.7 L521.5,883.4 L522.6,883.5 L523.8,882.3 L524.9,881.0 L526.1,881.4 L527.3,881.4 L528.4,882.3 L529.6,882.6 L530.7,883.9 L531.9,886.9 L533.0,886.9 L534.2,884.9 L535.3,883.2 L536.5,882.9 L537.6,884.5 L538.8,883.9 L539.9,880.6 L541.1,879.5"/>
<path class="r" d="M223.8,881.4 L226.6,882.1 L228.9,877.9 L230.6,874.4 L232.2,879.1 L234.6,882.6 L236.9,884.5 L239.3,882.6 L241.6,880.2 L243.5,877.9 L245.4,868.5 L247.7,856.7 L250.1,842.7 L252.4,828.6 L254.8,816.8 L257.1,808.6 L259.5,805.1 L261.1,803.9 L262.7,811.0 L265.1,820.3 L267.4,833.3 L269.8,845.0 L272.1,859.1 L275.2,870.8 L278.2,880.2 L280.6,887.3 L282.9,891.5 L285.3,893.2 L287.6,890.1 L290.0,891.5 L291.9,886.8 L294.0,892.0 L297.0,890.8 L299.4,892.4 L302.2,890.1 L305.7,890.8 L309.2,889.2 L312.8,886.1 L315.8,887.3 L318.6,886.1 L321.5,886.8 L324.5,883.8 L327.6,881.4 L329.9,884.5 L332.3,882.1 L334.6,885.4 L338.5,882.1 L341.3,881.0 L344.1,883.5 L346.2,882.8 L348.3,881.0 L351.1,884.7 L353.9,881.9 L356.0,884.2 L358.8,880.7 L361.6,883.3 L365.0,880.0 L369.2,879.6 L372.7,880.5 L376.2,881.9 L379.0,884.2 L382.5,881.4 L386.0,881.0 L390.2,885.2 L393.7,882.4 L396.5,882.8 L399.3,879.4 L402.8,883.3 L404.9,880.0 L407.7,883.3 L411.2,883.3 L413.3,881.4 L415.4,877.3 L418.2,882.1 L421.0,885.6 L423.0,884.2 L425.1,879.4 L427.9,884.2 L430.7,886.1 L432.8,881.4 L434.9,879.4 L437.7,882.4 L441.2,881.9 L445.0,881.0 L446.5,882.6 L447.7,883.1 L448.8,881.3 L450.0,881.6 L451.1,883.6 L452.3,883.8 L453.4,882.6 L454.6,882.3 L455.7,883.3 L456.9,882.2 L458.0,881.5 L459.2,881.9 L460.3,881.6 L461.5,882.2 L462.7,883.6 L463.8,883.6 L465.0,882.2 L466.1,880.9 L467.3,881.5 L468.4,882.2 L469.6,882.4 L470.7,882.7 L471.9,882.5 L473.0,882.1 L474.2,882.0 L475.3,882.2 L476.5,882.2 L477.6,881.8 L478.8,881.6 L480.0,881.6 L481.1,882.3 L482.3,884.4 L483.4,885.1 L484.6,884.2 L485.7,881.7 L486.9,879.0 L488.0,878.5 L489.2,879.3 L490.3,880.1 L491.5,880.5 L492.6,881.3 L493.8,880.7 L495.0,880.1 L496.1,882.0 L497.3,882.3 L498.4,880.4 L499.6,879.6 L500.7,879.8 L501.9,880.2 L503.0,881.4 L504.2,882.3 L505.3,881.8 L506.5,881.2 L507.6,880.9 L508.8,881.5 L510.0,882.5 L511.1,882.3 L512.3,883.3 L513.4,884.7 L514.6,882.5 L515.7,878.9 L516.9,877.4 L518.0,877.3 L519.2,880.6 L520.3,881.9 L521.5,879.9 L522.6,879.1 L523.8,880.5 L524.9,882.0 L526.1,882.5 L527.3,881.4 L528.4,880.9 L529.6,881.2 L530.7,879.6 L531.9,882.9 L533.0,887.7 L534.2,883.8 L535.3,880.5 L536.5,881.0 L537.6,882.8 L538.8,884.5 L539.9,881.9 L541.1,877.8"/>
<rect class="fr" x="223.9" y="646.4" width="317.4" height="255.9"/>
</g>
</svg></body></html>
